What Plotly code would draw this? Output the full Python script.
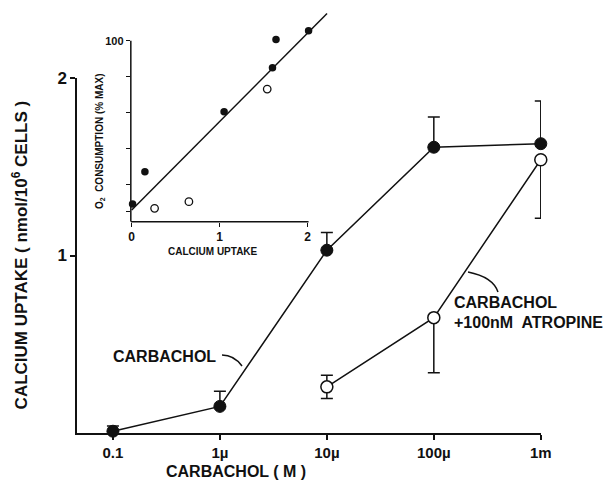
import plotly.graph_objects as go

# main panel: calcium uptake vs carbachol concentration
conc = [1e-7, 1e-6, 1e-5, 1e-4, 1e-3]
conc_labels = ["0.1", "1\u00b5", "10\u00b5", "100\u00b5", "1m"]

carb_uptake = [0.01, 0.15, 1.03, 1.61, 1.63]
carb_err = [0.03, 0.085, 0.10, 0.17, 0.24]

atro_conc = [1e-5, 1e-4, 1e-3]
atro_uptake = [0.26, 0.65, 1.54]
atro_err_up = [0.065, 0.0, 0.0]
atro_err_down = [0.065, 0.31, 0.33]

# inset: O2 consumption vs calcium uptake
inset_filled_x = [0.01, 0.15, 1.05, 1.60, 1.64, 2.01]
inset_filled_y = [9.3, 27.2, 60.6, 85.0, 100.8, 105.6]
inset_open_x = [0.26, 0.65, 1.54]
inset_open_y = [6.9, 10.6, 73.2]
fit_x = [0.0, 2.22]
fit_y = [6.0, 115.2]

FONT = "Liberation Sans, Arial, sans-serif"
BLACK = "#111111"

fig = go.Figure()

fig.add_trace(go.Scatter(
    x=conc, y=carb_uptake, mode="lines+markers",
    line=dict(color=BLACK, width=1.5),
    marker=dict(size=12, color=BLACK, line=dict(color=BLACK, width=1)),
    error_y=dict(type="data", array=carb_err, arrayminus=[0] * len(carb_err),
                 color=BLACK, thickness=1.5, width=6),
    cliponaxis=False, showlegend=False,
))
fig.add_trace(go.Scatter(
    x=atro_conc, y=atro_uptake, mode="lines+markers",
    line=dict(color=BLACK, width=1.5),
    marker=dict(size=12, color="white", line=dict(color=BLACK, width=1.5)),
    error_y=dict(type="data", array=atro_err_up, arrayminus=atro_err_down,
                 color=BLACK, thickness=1.5, width=6),
    cliponaxis=False, showlegend=False,
))

# inset traces
fig.add_trace(go.Scatter(
    x=fit_x, y=fit_y, mode="lines", line=dict(color=BLACK, width=1.5),
    xaxis="x2", yaxis="y2", showlegend=False,
))
fig.add_trace(go.Scatter(
    x=inset_filled_x, y=inset_filled_y, mode="markers",
    marker=dict(size=7.5, color=BLACK),
    xaxis="x2", yaxis="y2", cliponaxis=False, showlegend=False,
))
fig.add_trace(go.Scatter(
    x=inset_open_x, y=inset_open_y, mode="markers",
    marker=dict(size=7.5, color="white", line=dict(color=BLACK, width=1.3)),
    xaxis="x2", yaxis="y2", cliponaxis=False, showlegend=False,
))

axis_common = dict(showgrid=False, zeroline=False, ticks="outside", automargin=False,
                   tickcolor=BLACK, tickwidth=1.5, ticklen=5)

fig.update_layout(
    width=612, height=488,
    paper_bgcolor="white", plot_bgcolor="white",
    font=dict(family=FONT, color=BLACK, size=15, weight="bold"),
    margin=dict(l=77, r=71, t=5, b=55, autoexpand=False),
    xaxis=dict(type="log", range=[-7.336, -2.998], tickvals=conc, ticktext=conc_labels,
               showline=True, linecolor=BLACK, linewidth=1.5,
               tickfont=dict(size=15), **axis_common),
    yaxis=dict(range=[0, 2], domain=[0, 0.8294], tickvals=[1, 2],
               showline=True, linecolor=BLACK, linewidth=1.5,
               tickfont=dict(size=17), **axis_common),
    xaxis2=dict(range=[-0.01, 2.25], domain=[0.116, 0.5446], anchor="y2",
                tickvals=[0, 1, 2], showline=False, tickfont=dict(size=12),
                **{**axis_common, "ticklen": 4, "tickwidth": 1.2}),
    yaxis2=dict(range=[-0.5, 118], domain=[0.4937, 0.992], anchor="x2",
                tickvals=[100, 80, 60, 40, 20, 5], ticktext=["100", "", "", "", "", ""],
                showline=False, tickfont=dict(size=11),
                **{**axis_common, "ticklen": 4, "tickwidth": 1.2}),
)

# inset axis lines (stop at the last tick, the fit line runs past them)
fig.add_shape(type="line", xref="x2", yref="y2 domain", x0=-0.01, x1=2.01, y0=0, y1=0,
              line=dict(color=BLACK, width=1.5))
fig.add_shape(type="line", xref="x2 domain", yref="y2", x0=0, x1=0, y0=-0.5, y1=100,
              line=dict(color=BLACK, width=1.5))

# leader curves for the labels
fig.add_shape(type="path", xref="paper", yref="paper",
              path="M 0.3125,0.1822 Q 0.3384,0.1822 0.3556,0.1565",
              line=dict(color=BLACK, width=1.5))
fig.add_shape(type="path", xref="paper", yref="paper",
              path="M 0.8427,0.3762 Q 0.8966,0.3645 0.9073,0.3294",
              line=dict(color=BLACK, width=1.5))


def label(text, x, y, size, **kw):
    fig.add_annotation(text=text, xref="paper", yref="paper", x=x, y=y, showarrow=False,
                       font=dict(family=FONT, size=size, color=BLACK, weight="bold"), **kw)


label("CARBACHOL", 0.3039, 0.1776, 16, xanchor="right", yanchor="middle")
label("CARBACHOL", 0.8082, 0.306, 16, xanchor="left", yanchor="middle")
label("+100nM  ATROPINE", 0.8082, 0.2593, 16, xanchor="left", yanchor="middle")

# axis titles
label("CALCIUM UPTAKE ( nmol/10<sup>6</sup> CELLS )", -0.1228, 0.415, 17,
      textangle=-90, xanchor="center", yanchor="middle")
label("CARBACHOL ( M )", 0.3427, -0.0911, 16, xanchor="center", yanchor="middle")
label("O<sub>2</sub>  CONSUMPTION (% MAX)", 0.0496, 0.682, 10,
      textangle=-90, xanchor="center", yanchor="middle")
label("CALCIUM UPTAKE", 0.293, 0.423, 10, xanchor="center", yanchor="middle")

fig.write_html("out.html", config={"displayModeBar": False},
               post_script="document.body.style.margin='0';")
